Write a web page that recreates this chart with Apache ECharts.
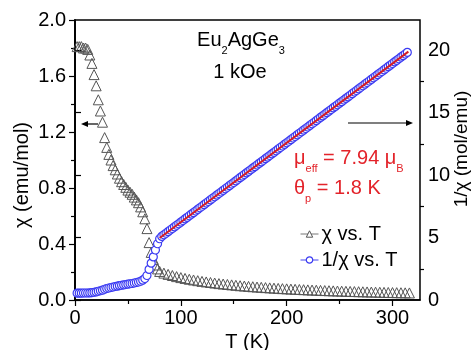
<!DOCTYPE html>
<html><head><meta charset="utf-8">
<script src="https://cdn.jsdelivr.net/npm/echarts@6/dist/echarts.min.js"></script>
<style>html,body{margin:0;padding:0;background:#fff}#c{width:472px;height:350px}</style>
</head><body><div id="c"></div>
<script>
// ---- data ----
const chiT = [2,4,6,8,10,12,14,16,18,20,22,24,26,28,30,32,34,36,38,40,42,44,46,48,50,52,54,56,58,60,62,64,66,68,70,72,74,76,78,80,
  84,88,92,96,100,104,108,112,116,120,124,128,132,136,140,144,148,152,156,160,164,168,172,176,180,184,188,192,196,200,
  204,208,212,216,220,224,228,232,236,240,244,248,252,256,260,264,268,272,276,280,284,288,292,296,300,304,308,312,316];
const chiVal = [1.81,1.81,1.81,1.80,1.80,1.79,1.75,1.69,1.61,1.53,1.43,1.35,1.27,1.16,1.09,1.04,1.00,0.96,0.93,0.90,0.87,0.845,0.825,0.805,0.785,0.77,0.755,0.735,0.715,0.695,0.665,0.63,0.58,0.51,0.41,0.34,0.29,0.25,0.222,0.204,
  0.192,0.183,0.175,0.167,0.160,0.154,0.148,0.143,0.138,0.133,0.129,0.125,0.121,0.117,0.114,0.111,0.108,0.105,0.102,0.0995,0.097,0.0947,0.0925,0.0905,0.0885,0.0865,0.0846,0.0828,0.0811,0.0795,
  0.0779,0.0764,0.0750,0.0736,0.0722,0.0709,0.0697,0.0685,0.0673,0.0662,0.0651,0.0641,0.0631,0.0621,0.0611,0.0602,0.0593,0.0585,0.0576,0.0568,0.0560,0.0553,0.0545,0.0538,0.0531,0.0524,0.0518,0.0511,0.0505];
const invT = [2,4,6,8,10,12,14,16,18,20,22,24,26,28,30,32,34,36,38,40,42,44,46,48,50,52,54,56,58,60,62,64,66,68,70,72,74,76,78,80,
  82,84,86,88,90,92,94,96,98,100,102,104,106,108,110,112,114,116,118,120,122,124,126,128,130,132,134,136,138,140,
  142,144,146,148,150,152,154,156,158,160,162,164,166,168,170,172,174,176,178,180,182,184,186,188,190,192,194,196,198,200,
  202,204,206,208,210,212,214,216,218,220,222,224,226,228,230,232,234,236,238,240,242,244,246,248,250,252,254,256,258,260,
  262,264,266,268,270,272,274,276,278,280,282,284,286,288,290,292,294,296,298,300,302,304,306,308,310,312,314];
const invVal = [0.55,0.55,0.55,0.56,0.56,0.56,0.57,0.59,0.62,0.65,0.70,0.74,0.79,0.86,0.92,0.96,1.00,1.04,1.08,1.11,1.15,1.18,1.21,1.24,1.27,1.30,1.32,1.36,1.40,1.44,1.50,1.59,1.72,1.96,2.45,2.95,3.45,4.00,4.50,4.90,
  5.09,5.22,5.34,5.47,5.60,5.72,5.85,5.98,6.10,6.23,6.36,6.49,6.61,6.74,6.87,6.99,7.12,7.25,7.38,7.50,7.63,7.76,7.88,8.01,8.14,8.26,8.39,8.52,8.64,8.77,
  8.90,9.02,9.15,9.28,9.40,9.53,9.66,9.79,9.91,10.04,10.17,10.29,10.42,10.55,10.67,10.80,10.93,11.05,11.18,11.31,11.43,11.56,11.69,11.81,11.94,12.07,12.20,12.32,12.45,12.58,
  12.70,12.83,12.96,13.08,13.21,13.34,13.46,13.59,13.72,13.84,13.97,14.10,14.22,14.35,14.48,14.61,14.73,14.86,14.99,15.11,15.24,15.37,15.49,15.62,15.75,15.87,16.00,16.13,16.25,16.38,
  16.51,16.64,16.76,16.89,17.02,17.14,17.27,17.40,17.52,17.65,17.78,17.90,18.03,18.16,18.28,18.41,18.54,18.67,18.79,18.92,19.05,19.17,19.30,19.43,19.55,19.68,19.81];
const fitT = [80, 315];
const fitVal = [4.96, 19.87];
const xTicks = [0, 100, 200, 300];
const xMinorTicks = [50, 150, 250];
const rightTicks = [0, 5, 10, 15, 20];
const rightMinorTicks = [2.5, 7.5, 12.5, 17.5];
const chiName = 'χ vs. T';
const invName = '1/χ vs. T';

// ---- chart ----
const FONT = "'Liberation Sans', Arial, sans-serif";
const chart = echarts.init(document.getElementById('c'), null, {renderer: 'canvas'});
const axisCommon = {
  axisLine: {show: true, lineStyle: {color: '#000', width: 1.5}},
  axisTick: {show: true, length: 6, lineStyle: {color: '#000', width: 1.2}},
  splitLine: {show: false},
  axisLabel: {color: '#000', fontSize: 20, fontFamily: FONT}
};
const RED = '#e3232a';
const sub = (p) => ({fontSize: 11, fontFamily: FONT, lineHeight: 10, verticalAlign: 'top', padding: [p, 0, 0, 0]});

chart.setOption({
  animation: false,
  backgroundColor: '#fff',
  grid: {left: 75, right: 52, top: 20, bottom: 50, show: true, borderColor: '#000', borderWidth: 1.5, backgroundColor: 'transparent', outerBoundsMode: 'none'},
  xAxis: [
    Object.assign({}, axisCommon, {
      type: 'value', min: 0, max: 326, position: 'bottom',
      axisTick: Object.assign({}, axisCommon.axisTick, {customValues: xTicks}),
      axisLabel: Object.assign({}, axisCommon.axisLabel, {customValues: xTicks, margin: 8}),
      name: 'T (K)', nameLocation: 'middle', nameGap: 28,
      nameTextStyle: {color: '#000', fontSize: 20, fontFamily: FONT}
    }),
    {type: 'value', min: 0, max: 326, position: 'bottom', axisLine: {show: false}, splitLine: {show: false},
     axisLabel: {show: false}, axisTick: {show: true, length: 4, customValues: xMinorTicks, lineStyle: {color: '#000', width: 1.2}}}
  ],
  yAxis: [
    Object.assign({}, axisCommon, {
      type: 'value', min: 0, max: 2, interval: 0.4, position: 'left',
      minorTick: {show: true, splitNumber: 2, length: 4, lineStyle: {color: '#000', width: 1.2}},
      axisLabel: Object.assign({}, axisCommon.axisLabel, {margin: 9, formatter: v => v.toFixed(1)})
    }),
    Object.assign({}, axisCommon, {
      type: 'value', min: 0, max: 22.4, position: 'right',
      axisTick: Object.assign({}, axisCommon.axisTick, {customValues: rightTicks}),
      axisLabel: Object.assign({}, axisCommon.axisLabel, {customValues: rightTicks, margin: 8})
    }),
    {type: 'value', min: 0, max: 22.4, position: 'right', axisLine: {show: false}, splitLine: {show: false},
     axisLabel: {show: false}, axisTick: {show: true, length: 4, customValues: rightMinorTicks, lineStyle: {color: '#000', width: 1.2}}}
  ],
  legend: {
    orient: 'vertical', left: 295, top: 219, itemWidth: 18, itemHeight: 8, itemGap: 6,
    textStyle: {color: '#000', fontSize: 20, fontFamily: FONT, padding: [0,0,0,-2]},
    data: [
      {name: chiName, lineStyle: {color: '#777', width: 1, opacity: 1}, itemStyle: {color: '#fff', borderColor: '#555', borderWidth: 1}},
      {name: invName, lineStyle: {color: '#4444ee', width: 1, opacity: 1}, itemStyle: {color: '#fff', borderColor: '#3a3af2', borderWidth: 1.2}}
    ]
  },
  series: [
    {
      name: chiName, type: 'line', xAxisIndex: 0, yAxisIndex: 0,
      data: chiT.map((t, i) => [t, chiVal[i]]),
      symbol: 'triangle', symbolSize: 10, showSymbol: true,
      lineStyle: {width: 0, opacity: 0},
      itemStyle: {color: 'rgba(255,255,255,0)', borderColor: '#555', borderWidth: 1},
      z: 2
    },
    {
      name: invName, type: 'line', xAxisIndex: 0, yAxisIndex: 1,
      data: invT.map((t, i) => [t, invVal[i]]),
      symbol: 'circle', symbolSize: 8, showSymbol: true,
      lineStyle: {width: 0, opacity: 0},
      itemStyle: {color: '#fff', borderColor: '#3a3af2', borderWidth: 1.2},
      z: 3
    },
    {
      name: 'fit', type: 'line', xAxisIndex: 0, yAxisIndex: 1,
      data: fitT.map((t, i) => [t, fitVal[i]]),
      showSymbol: false, symbol: 'none',
      lineStyle: {color: '#d41c24', width: 2},
      z: 4
    }
  ],
  graphic: [
    {type: 'text', x: 241, y: 40, z: 10, style: {
      text: '{n|Eu}{s|2}{n|AgGe}{s|3}', align: 'center', verticalAlign: 'middle', fill: '#000',
      rich: {n: {fontSize: 20, fontFamily: FONT, lineHeight: 24}, s: sub(17)}}},
    {type: 'text', x: 240, y: 72, z: 10, style: {text: '1 kOe', align: 'center', verticalAlign: 'middle', fill: '#000', fontSize: 20, fontFamily: FONT}},
    {type: 'text', x: 294, y: 158, z: 10, style: {
      text: '{n|μ}{s|eff}{n| = 7.94 μ}{s|B}', align: 'left', verticalAlign: 'middle', fill: RED,
      rich: {n: {fontSize: 20, fontFamily: FONT, lineHeight: 24, fill: RED}, s: Object.assign(sub(17), {fill: RED})}}},
    {type: 'text', x: 294, y: 188, z: 10, style: {
      text: '{n|θ}{s|p}{n| = 1.8 K}', align: 'left', verticalAlign: 'middle', fill: RED,
      rich: {n: {fontSize: 20, fontFamily: FONT, lineHeight: 24, fill: RED}, s: Object.assign(sub(17), {fill: RED})}}},
    {type: 'text', x: 22, y: 175, rotation: Math.PI / 2, z: 10, style: {text: 'χ (emu/mol)', align: 'center', verticalAlign: 'middle', fill: '#000', fontSize: 20, fontFamily: FONT}},
    {type: 'text', x: 462, y: 149, rotation: Math.PI / 2, z: 10, style: {text: '1/χ (mol/emu)', align: 'center', verticalAlign: 'middle', fill: '#000', fontSize: 19, fontFamily: FONT}},
    {type: 'line', z: 10, shape: {x1: 98, y1: 124, x2: 86, y2: 124}, style: {stroke: '#000', lineWidth: 1.2}},
    {type: 'polygon', z: 10, shape: {points: [[81, 124], [88, 121], [88, 127]]}, style: {fill: '#000'}},
    {type: 'line', z: 10, shape: {x1: 348, y1: 123, x2: 408, y2: 123}, style: {stroke: '#000', lineWidth: 1.2}},
    {type: 'polygon', z: 10, shape: {points: [[413, 123], [406, 120], [406, 126]]}, style: {fill: '#000'}}
  ]
});
</script></body></html>
